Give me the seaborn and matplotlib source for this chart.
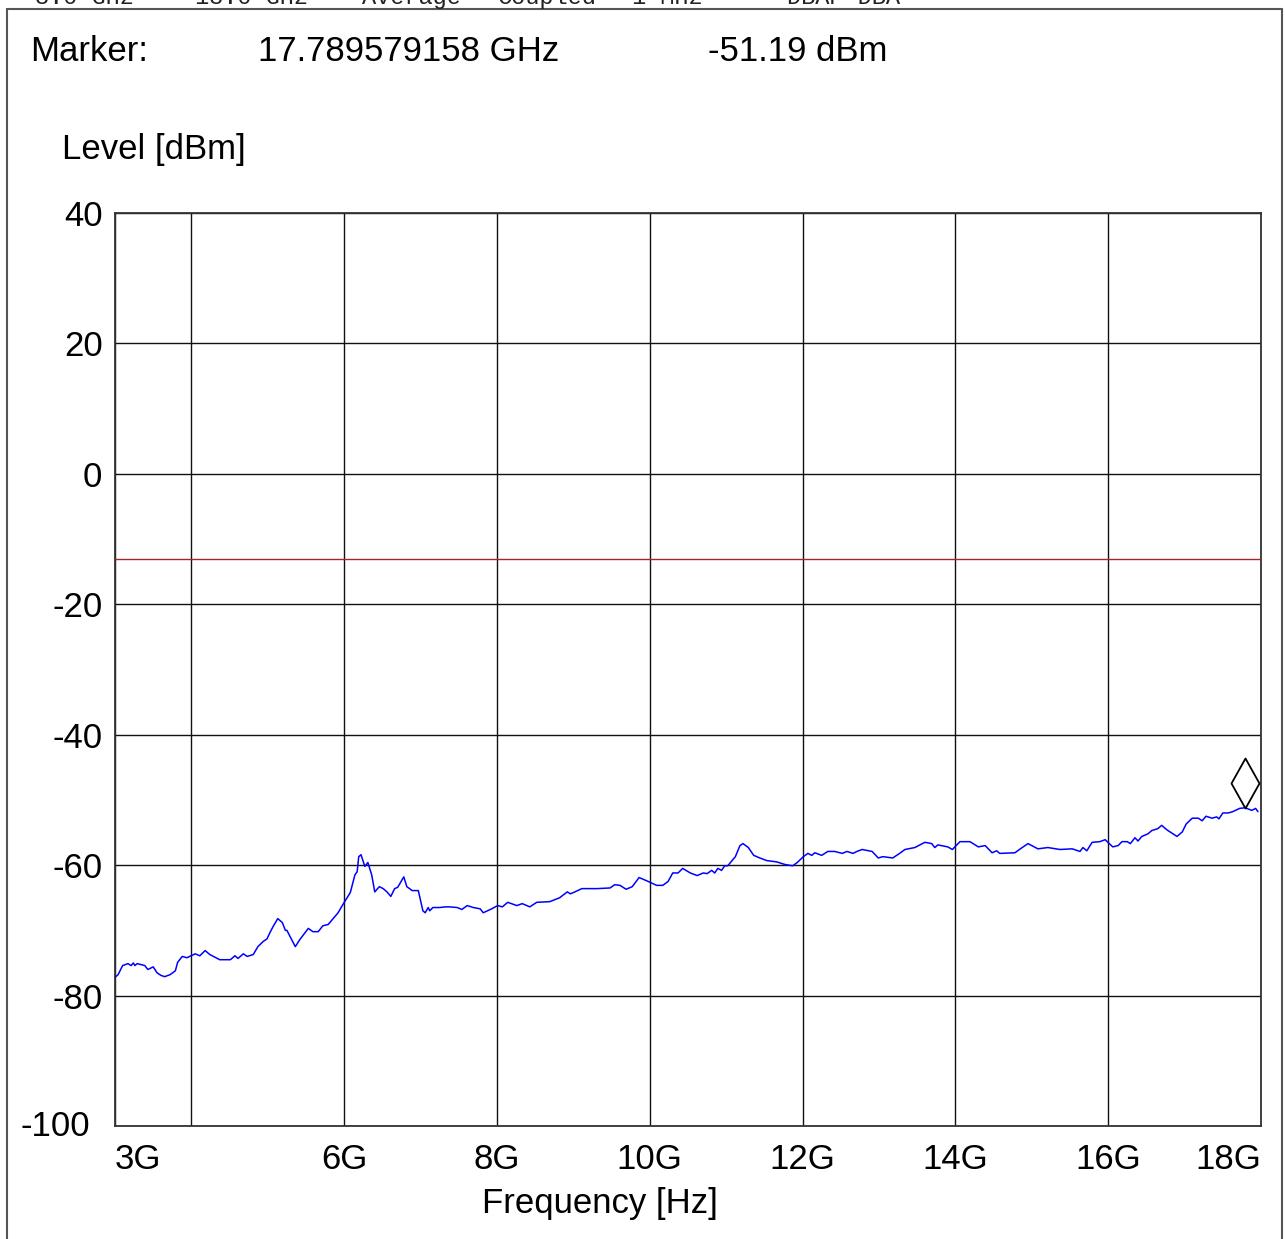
import numpy as np
import pandas as pd
import matplotlib
matplotlib.use("Agg")
import matplotlib.pyplot as plt
import matplotlib.transforms as mtransforms
from matplotlib.path import Path
from matplotlib.lines import Line2D
import seaborn as sns

# ---------------- data ----------------
freq_ghz = [3.00, 3.04, 3.10, 3.17, 3.21, 3.24, 3.26, 3.29, 3.39, 3.43, 3.50, 3.55, 3.60, 3.65,
            3.72, 3.79, 3.82, 3.88, 3.94, 4.05, 4.11, 4.18, 4.24, 4.37, 4.51, 4.57, 4.61, 4.68,
            4.73, 4.81, 4.87, 4.94, 4.99, 5.03, 5.07, 5.13, 5.19, 5.23, 5.25, 5.36, 5.42, 5.53,
            5.59, 5.66, 5.72, 5.79, 5.84, 5.92, 5.98, 6.08, 6.14, 6.17, 6.19, 6.22, 6.27, 6.31,
            6.36, 6.40, 6.46, 6.51, 6.56, 6.61, 6.66, 6.70, 6.78, 6.82, 6.89, 6.97, 7.03, 7.06,
            7.10, 7.12, 7.16, 7.25, 7.32, 7.38, 7.48, 7.54, 7.61, 7.69, 7.78, 7.82, 7.93, 8.01,
            8.07, 8.14, 8.26, 8.33, 8.43, 8.52, 8.69, 8.82, 8.92, 8.96, 9.02, 9.11, 9.31, 9.48,
            9.54, 9.61, 9.69, 9.77, 9.86, 9.96, 10.09, 10.17, 10.24, 10.30, 10.37, 10.43, 10.53,
            10.62, 10.70, 10.75, 10.81, 10.85, 10.89, 10.94, 10.98, 11.02, 11.12, 11.18, 11.22,
            11.29, 11.36, 11.44, 11.53, 11.66, 11.77, 11.87, 11.93, 12.01, 12.07, 12.12, 12.16,
            12.25, 12.33, 12.42, 12.52, 12.58, 12.66, 12.71, 12.78, 12.91, 12.99, 13.05, 13.18,
            13.27, 13.34, 13.47, 13.60, 13.69, 13.73, 13.77, 13.90, 13.96, 14.06, 14.19, 14.30,
            14.39, 14.48, 14.54, 14.58, 14.78, 14.85, 14.95, 15.08, 15.21, 15.37, 15.53, 15.63,
            15.67, 15.72, 15.79, 15.89, 15.96, 16.06, 16.13, 16.18, 16.25, 16.29, 16.35, 16.39,
            16.44, 16.52, 16.57, 16.65, 16.70, 16.77, 16.90, 16.97, 17.02, 17.10, 17.18, 17.23,
            17.28, 17.36, 17.42, 17.45, 17.50, 17.57, 17.63, 17.72, 17.79, 17.88, 17.93, 17.96]
level_dbm = [-77.2, -76.8, -75.4, -75.1, -75.4, -75.0, -75.4, -75.1, -75.4, -76.0, -75.6, -76.5, -76.9, -77.1,
             -76.8, -76.2, -74.9, -74.0, -74.2, -73.6, -73.9, -73.1, -73.7, -74.5, -74.5, -73.9, -74.3, -73.6,
             -74.0, -73.7, -72.5, -71.7, -71.3, -70.3, -69.4, -68.2, -68.8, -70.0, -70.0, -72.5, -71.4, -69.7,
             -70.2, -70.2, -69.3, -69.1, -68.4, -67.3, -66.1, -64.2, -61.5, -61.0, -58.7, -58.4, -60.2, -59.6,
             -61.5, -64.1, -63.3, -63.6, -64.1, -64.8, -63.6, -63.4, -61.8, -63.3, -63.9, -63.9, -67.0, -67.3,
             -66.5, -67.0, -66.5, -66.5, -66.4, -66.4, -66.5, -66.8, -66.2, -66.5, -66.7, -67.3, -66.7, -66.2,
             -66.4, -65.7, -66.2, -65.9, -66.4, -65.7, -65.6, -65.0, -64.1, -64.4, -64.1, -63.6, -63.6, -63.5,
             -63.0, -63.1, -63.7, -63.3, -61.9, -62.4, -63.1, -63.1, -62.5, -61.2, -61.2, -60.5, -61.2,
             -61.6, -61.2, -61.3, -60.8, -61.2, -60.5, -60.8, -60.1, -60.1, -58.7, -57.0, -56.7,
             -57.3, -58.5, -58.9, -59.3, -59.5, -59.9, -60.1, -59.6, -58.7, -58.2, -58.5, -58.1,
             -58.5, -57.9, -57.9, -58.2, -57.9, -58.2, -57.9, -57.6, -57.9, -58.9, -58.7, -58.9,
             -58.2, -57.6, -57.3, -56.5, -56.7, -57.3, -56.9, -57.2, -57.6, -56.4, -56.4, -57.2,
             -57.0, -58.1, -57.8, -58.2, -58.1, -57.5, -56.7, -57.5, -57.3, -57.6, -57.5, -57.9,
             -57.3, -57.8, -56.5, -56.4, -56.1, -57.2, -57.0, -56.4, -56.4, -56.7, -55.8, -56.3,
             -55.6, -55.2, -54.7, -54.4, -53.9, -54.6, -55.6, -54.9, -53.7, -52.8, -52.8, -53.2,
             -52.5, -52.8, -52.6, -52.9, -52.0, -52.0, -51.8, -51.3, -51.2, -51.6, -51.3, -51.8]

limit_dbm = -13.0
marker_freq = 17.789579158
marker_level = -51.19

x_ticks = [3, 4, 6, 8, 10, 12, 14, 16, 18]
x_tick_labels = ["3G", "", "6G", "8G", "10G", "12G", "14G", "16G", "18G"]
y_ticks = [40, 20, 0, -20, -40, -60, -80, -100]
y_tick_labels = ["40", "20", "0", "-20", "-40", "-60", "-80", ""]

header_items = ["3.0 GHz", "18.0 GHz", "Average", "Coupled", "1 MHz", "DBAP DBA"]
header_x_px = [35, 195, 362, 498, 632, 787]

# ---------------- figure ----------------
sns.set_theme(style="white")
plt.rcParams["font.family"] = ["Liberation Sans", "DejaVu Sans"]
plt.rcParams["text.color"] = "black"
plt.rcParams["xtick.color"] = "black"
plt.rcParams["ytick.color"] = "black"

W, H = 1285, 1239
fig = plt.figure(figsize=(W / 100, H / 100), dpi=100)
fig.patch.set_facecolor("white")

def fx(px):
    return px / W

def fy(py):
    return 1 - py / H

ax = fig.add_axes([fx(115), fy(1126), fx(1261) - fx(115), fy(213) - fy(1126)])
ax.set_facecolor("white")

df = pd.DataFrame({"freq": freq_ghz, "level": level_dbm})
sns.lineplot(data=df, x="freq", y="level", ax=ax, color="#0000ff", lw=1.1,
             estimator=None, sort=False, zorder=5)

ax.axhline(limit_dbm, color="#a02828", lw=1.0, zorder=4)

# marker diamond sitting on the marker point
diamond = Path([(0, 0), (-14, 25), (0, 50), (14, 25), (0, 0)],
               [Path.MOVETO, Path.LINETO, Path.LINETO, Path.LINETO, Path.CLOSEPOLY])
ax.plot([marker_freq], [marker_level], marker=diamond, ms=72, mfc="none",
        mec="black", mew=1.3, ls="none", zorder=6)

ax.set_xlim(3, 18)
ax.set_ylim(-100, 40)
ax.set_xticks(x_ticks)
ax.set_xticklabels(x_tick_labels)
ax.set_yticks(y_ticks)
ax.set_yticklabels(y_tick_labels)
ax.grid(True, color="#111111", lw=1.0)
ax.tick_params(axis="both", length=0, labelsize=25, colors="black")
ax.tick_params(axis="x", pad=12)
ax.tick_params(axis="y", pad=9)
xl = ax.get_xticklabels()
xl[0].set_ha("left")
xl[-1].set_ha("right")
ax.set_xlabel("")
ax.set_ylabel("")
for s in ax.spines.values():
    s.set_color("#333333")
    s.set_linewidth(1.3)

# -100 label shifted left
trans = ax.get_yaxis_transform() + mtransforms.ScaledTranslation(-25 / 100, 0, fig.dpi_scale_trans)
ax.text(0, -100, "-100", transform=trans, ha="right", va="center", fontsize=25, color="black")

# texts
fig.text(fx(62), fy(159), "Level [dBm]", ha="left", va="baseline", fontsize=25)
fig.text(fx(600), fy(1213), "Frequency [Hz]", ha="center", va="baseline", fontsize=25)
fig.text(fx(30), fy(61), "Marker:", ha="left", va="baseline", fontsize=25)
fig.text(fx(258), fy(61), "17.789579158 GHz", ha="left", va="baseline", fontsize=25)
fig.text(fx(708), fy(61), "-51.19 dBm", ha="left", va="baseline", fontsize=25)

for item, xp in zip(header_items, header_x_px):
    fig.text(fx(xp), fy(4), item, ha="left", va="baseline", fontsize=17,
             family="Liberation Mono", color="#222222")

# outer frame
frame_kw = dict(color="#555555", lw=1.5, transform=fig.transFigure)
fig.add_artist(Line2D([fx(7), fx(7)], [fy(9), 0], **frame_kw))
fig.add_artist(Line2D([fx(1282), fx(1282)], [fy(9), 0], **frame_kw))
fig.add_artist(Line2D([fx(7), fx(1282)], [fy(9), fy(9)], **frame_kw))

fig.savefig("out.png", dpi=100, facecolor="white")
